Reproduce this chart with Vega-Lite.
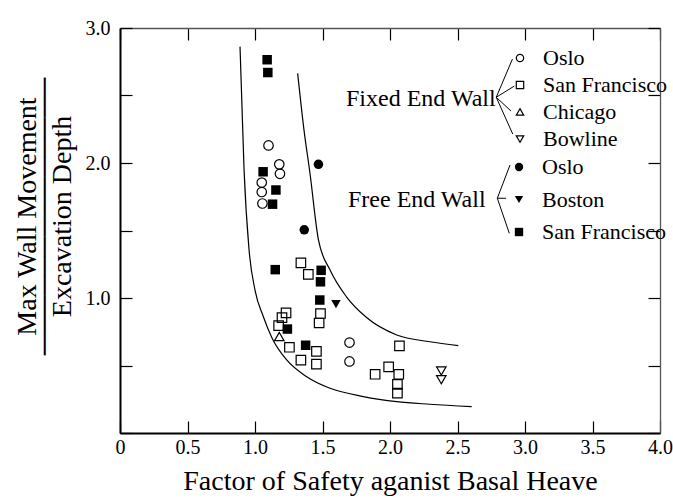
{
  "$schema": "https://vega.github.io/schema/vega-lite/v6.json",
  "width": 540,
  "height": 405,
  "autosize": {"type": "none"},
  "padding": {"left": 120, "top": 28, "right": 13, "bottom": 65},
  "config": {
    "view": {"stroke": null},
    "font": "Liberation Serif",
    "axis": {
      "labelFont": "Liberation Serif",
      "titleFont": "Liberation Serif",
      "labelColor": "black",
      "titleColor": "black",
      "titleFontWeight": "normal",
      "grid": false,
      "domainColor": "black",
      "tickColor": "black",
      "labelFlush": false,
      "labelOverlap": false,
      "labelBound": false
    },
    "legend": {
      "labelFont": "Liberation Serif",
      "titleFont": "Liberation Serif",
      "labelFontSize": 22,
      "titleFontSize": 24,
      "titleFontWeight": "normal",
      "labelColor": "black",
      "titleColor": "black",
      "padding": 0,
      "symbolStrokeWidth": 1.2,
      "labelLimit": 0,
      "titleLimit": 0
    }
  },
  "datasets": {
    "points": [
      {"group": "Fixed", "site": "Oslo", "fs": 1.10, "ratio": 2.13},
      {"group": "Fixed", "site": "Oslo", "fs": 1.18, "ratio": 1.99},
      {"group": "Fixed", "site": "Oslo", "fs": 1.185, "ratio": 1.92},
      {"group": "Fixed", "site": "Oslo", "fs": 1.05, "ratio": 1.855},
      {"group": "Fixed", "site": "Oslo", "fs": 1.05, "ratio": 1.785},
      {"group": "Fixed", "site": "Oslo", "fs": 1.055, "ratio": 1.70},
      {"group": "Fixed", "site": "Oslo", "fs": 1.70, "ratio": 0.67},
      {"group": "Fixed", "site": "Oslo", "fs": 1.70, "ratio": 0.53},
      {"group": "Fixed", "site": "San Francisco", "fs": 1.34, "ratio": 1.26},
      {"group": "Fixed", "site": "San Francisco", "fs": 1.395, "ratio": 1.175},
      {"group": "Fixed", "site": "San Francisco", "fs": 1.485, "ratio": 0.885},
      {"group": "Fixed", "site": "San Francisco", "fs": 1.475, "ratio": 0.815},
      {"group": "Fixed", "site": "San Francisco", "fs": 1.23, "ratio": 0.89},
      {"group": "Fixed", "site": "San Francisco", "fs": 1.20, "ratio": 0.855},
      {"group": "Fixed", "site": "San Francisco", "fs": 1.175, "ratio": 0.795},
      {"group": "Fixed", "site": "San Francisco", "fs": 1.255, "ratio": 0.635},
      {"group": "Fixed", "site": "San Francisco", "fs": 1.455, "ratio": 0.605},
      {"group": "Fixed", "site": "San Francisco", "fs": 1.34, "ratio": 0.54},
      {"group": "Fixed", "site": "San Francisco", "fs": 1.455, "ratio": 0.51},
      {"group": "Fixed", "site": "San Francisco", "fs": 2.07, "ratio": 0.645},
      {"group": "Fixed", "site": "San Francisco", "fs": 1.99, "ratio": 0.49},
      {"group": "Fixed", "site": "San Francisco", "fs": 1.89, "ratio": 0.435},
      {"group": "Fixed", "site": "San Francisco", "fs": 2.065, "ratio": 0.435},
      {"group": "Fixed", "site": "San Francisco", "fs": 2.055, "ratio": 0.36},
      {"group": "Fixed", "site": "San Francisco", "fs": 2.055, "ratio": 0.295},
      {"group": "Fixed", "site": "Chicago", "fs": 1.18, "ratio": 0.715},
      {"group": "Fixed", "site": "Bowline", "fs": 2.38, "ratio": 0.46},
      {"group": "Fixed", "site": "Bowline", "fs": 2.38, "ratio": 0.395},
      {"group": "Free", "site": "Oslo", "fs": 1.47, "ratio": 1.99},
      {"group": "Free", "site": "Oslo", "fs": 1.365, "ratio": 1.505},
      {"group": "Free", "site": "Boston", "fs": 1.60, "ratio": 0.955},
      {"group": "Free", "site": "San Francisco", "fs": 1.09, "ratio": 2.765},
      {"group": "Free", "site": "San Francisco", "fs": 1.095, "ratio": 2.67},
      {"group": "Free", "site": "San Francisco", "fs": 1.06, "ratio": 1.935},
      {"group": "Free", "site": "San Francisco", "fs": 1.155, "ratio": 1.80},
      {"group": "Free", "site": "San Francisco", "fs": 1.13, "ratio": 1.695},
      {"group": "Free", "site": "San Francisco", "fs": 1.15, "ratio": 1.21},
      {"group": "Free", "site": "San Francisco", "fs": 1.49, "ratio": 1.205},
      {"group": "Free", "site": "San Francisco", "fs": 1.485, "ratio": 1.12},
      {"group": "Free", "site": "San Francisco", "fs": 1.48, "ratio": 0.985},
      {"group": "Free", "site": "San Francisco", "fs": 1.24, "ratio": 0.77},
      {"group": "Free", "site": "San Francisco", "fs": 1.375, "ratio": 0.65}
    ],
    "curves": [
      {"curve": "lower", "fs": 0.889, "ratio": 2.862},
      {"curve": "lower", "fs": 0.919, "ratio": 1.948},
      {"curve": "lower", "fs": 0.956, "ratio": 1.356},
      {"curve": "lower", "fs": 1.0, "ratio": 1.059},
      {"curve": "lower", "fs": 1.062, "ratio": 0.861},
      {"curve": "lower", "fs": 1.126, "ratio": 0.704},
      {"curve": "lower", "fs": 1.235, "ratio": 0.541},
      {"curve": "lower", "fs": 1.383, "ratio": 0.417},
      {"curve": "lower", "fs": 1.556, "ratio": 0.331},
      {"curve": "lower", "fs": 1.802, "ratio": 0.270},
      {"curve": "lower", "fs": 2.050, "ratio": 0.232},
      {"curve": "lower", "fs": 2.296, "ratio": 0.213},
      {"curve": "lower", "fs": 2.605, "ratio": 0.195},
      {"curve": "upper", "fs": 1.316, "ratio": 2.664},
      {"curve": "upper", "fs": 1.363, "ratio": 2.244},
      {"curve": "upper", "fs": 1.407, "ratio": 1.926},
      {"curve": "upper", "fs": 1.470, "ratio": 1.430},
      {"curve": "upper", "fs": 1.556, "ratio": 1.207},
      {"curve": "upper", "fs": 1.679, "ratio": 1.007},
      {"curve": "upper", "fs": 1.822, "ratio": 0.859},
      {"curve": "upper", "fs": 2.050, "ratio": 0.726},
      {"curve": "upper", "fs": 2.296, "ratio": 0.676},
      {"curve": "upper", "fs": 2.506, "ratio": 0.647}
    ],
    "brackets": [
      {"group": "Fixed", "x1": 2.787, "y1": 2.487, "x2": 2.907, "y2": 2.770},
      {"group": "Fixed", "x1": 2.787, "y1": 2.487, "x2": 2.921, "y2": 2.570},
      {"group": "Fixed", "x1": 2.787, "y1": 2.487, "x2": 2.896, "y2": 2.385},
      {"group": "Fixed", "x1": 2.787, "y1": 2.487, "x2": 2.909, "y2": 2.215},
      {"group": "Free", "x1": 2.795, "y1": 1.739, "x2": 2.889, "y2": 1.985},
      {"group": "Free", "x1": 2.795, "y1": 1.739, "x2": 2.859, "y2": 1.739},
      {"group": "Free", "x1": 2.795, "y1": 1.739, "x2": 2.884, "y2": 1.479}
    ]
  },
  "layer": [
    {
      "data": {"name": "curves"},
      "mark": {"type": "line", "color": "black", "strokeWidth": 1.2, "interpolate": "monotone"},
      "encoding": {
        "x": {
          "field": "fs", "type": "quantitative",
          "scale": {"domain": [0, 4], "nice": false, "zero": false},
          "axis": {
            "orient": "bottom",
            "values": [0, 0.5, 1, 1.5, 2, 2.5, 3, 3.5, 4],
            "tickSize": -12, "tickWidth": 1.2, "domainWidth": 2,
            "labelPadding": 16, "labelFontSize": 20,
            "labelExpr": "datum.value == 0 ? '0' : format(datum.value, '.1f')",
            "title": "Factor of Safety aganist Basal Heave",
            "titleFontSize": 28, "titlePadding": 10
          }
        },
        "y": {
          "field": "ratio", "type": "quantitative",
          "scale": {"domain": [0, 3], "nice": false, "zero": false},
          "axis": {
            "orient": "left",
            "values": [0, 0.5, 1, 1.5, 2, 2.5, 3],
            "tickSize": -12, "tickWidth": 1.2, "domainWidth": 2,
            "labelPadding": 22, "labelFontSize": 20,
            "labelExpr": "datum.value > 0 && datum.value % 1 == 0 ? format(datum.value, '.1f') : ''",
            "title": ["Max Wall Movement", "──────────────", "Excavation Depth"],
            "titleFontSize": 28, "titleLineHeight": 17.5,
            "titleBaseline": "middle", "titleAngle": -90, "titleAlign": "center",
            "titleX": -92.6, "titleY": 188
          }
        },
        "detail": {"field": "curve", "type": "nominal"}
      }
    },
    {
      "data": {"name": "points"},
      "transform": [{"filter": "datum.group == 'Fixed'"}],
      "mark": {"type": "point", "filled": false, "color": "black", "size": 90, "strokeWidth": 1.2, "opacity": 1},
      "encoding": {
        "x": {"field": "fs", "type": "quantitative", "scale": {"domain": [0, 4], "nice": false, "zero": false}, "axis": null},
        "y": {"field": "ratio", "type": "quantitative", "scale": {"domain": [0, 3], "nice": false, "zero": false}, "axis": null},
        "shape": {
          "field": "site", "type": "nominal",
          "scale": {"domain": ["Oslo", "San Francisco", "Chicago", "Bowline"], "range": ["circle", "square", "triangle-up", "triangle-down"]},
          "legend": {
            "title": "Fixed End Wall", "orient": "none", "legendX": 226, "legendY": 19,
            "titleOrient": "left", "titlePadding": 12, "rowPadding": 5,
            "symbolSize": 55, "labelOffset": 12
          }
        }
      }
    },
    {
      "data": {"name": "points"},
      "transform": [{"filter": "datum.group == 'Free'"}],
      "mark": {"type": "point", "filled": true, "color": "black", "size": 90, "opacity": 1},
      "encoding": {
        "x": {"field": "fs", "type": "quantitative", "scale": {"domain": [0, 4], "nice": false, "zero": false}, "axis": null},
        "y": {"field": "ratio", "type": "quantitative", "scale": {"domain": [0, 3], "nice": false, "zero": false}, "axis": null},
        "shape": {
          "field": "site", "type": "nominal",
          "scale": {"domain": ["Oslo", "Boston", "San Francisco"], "range": ["circle", "triangle-down", "square"]},
          "legend": {
            "title": "Free End Wall", "orient": "none", "legendX": 228, "legendY": 128,
            "titleOrient": "left", "titlePadding": 21, "rowPadding": 10.5,
            "symbolSize": 70, "labelOffset": 12
          }
        }
      }
    },
    {
      "data": {"name": "brackets"},
      "mark": {"type": "rule", "color": "black", "strokeWidth": 1},
      "encoding": {
        "x": {
          "field": "x1", "type": "quantitative",
          "scale": {"domain": [0, 4], "nice": false, "zero": false},
          "axis": {"orient": "top", "values": [0, 0.5, 1, 1.5, 2, 2.5, 3, 3.5, 4], "tickSize": -12, "tickWidth": 1.2, "labels": false, "title": null, "domainColor": "#555", "domainWidth": 1.3}
        },
        "y": {
          "field": "y1", "type": "quantitative",
          "scale": {"domain": [0, 3], "nice": false, "zero": false},
          "axis": {"orient": "right", "values": [0, 0.5, 1, 1.5, 2, 2.5, 3], "tickSize": -12, "tickWidth": 1.2, "labels": false, "title": null, "domainColor": "#555", "domainWidth": 1.3}
        },
        "x2": {"field": "x2"},
        "y2": {"field": "y2"}
      }
    }
  ],
  "resolve": {
    "scale": {"shape": "independent"},
    "legend": {"shape": "independent"},
    "axis": {"x": "independent", "y": "independent"}
  }
}
